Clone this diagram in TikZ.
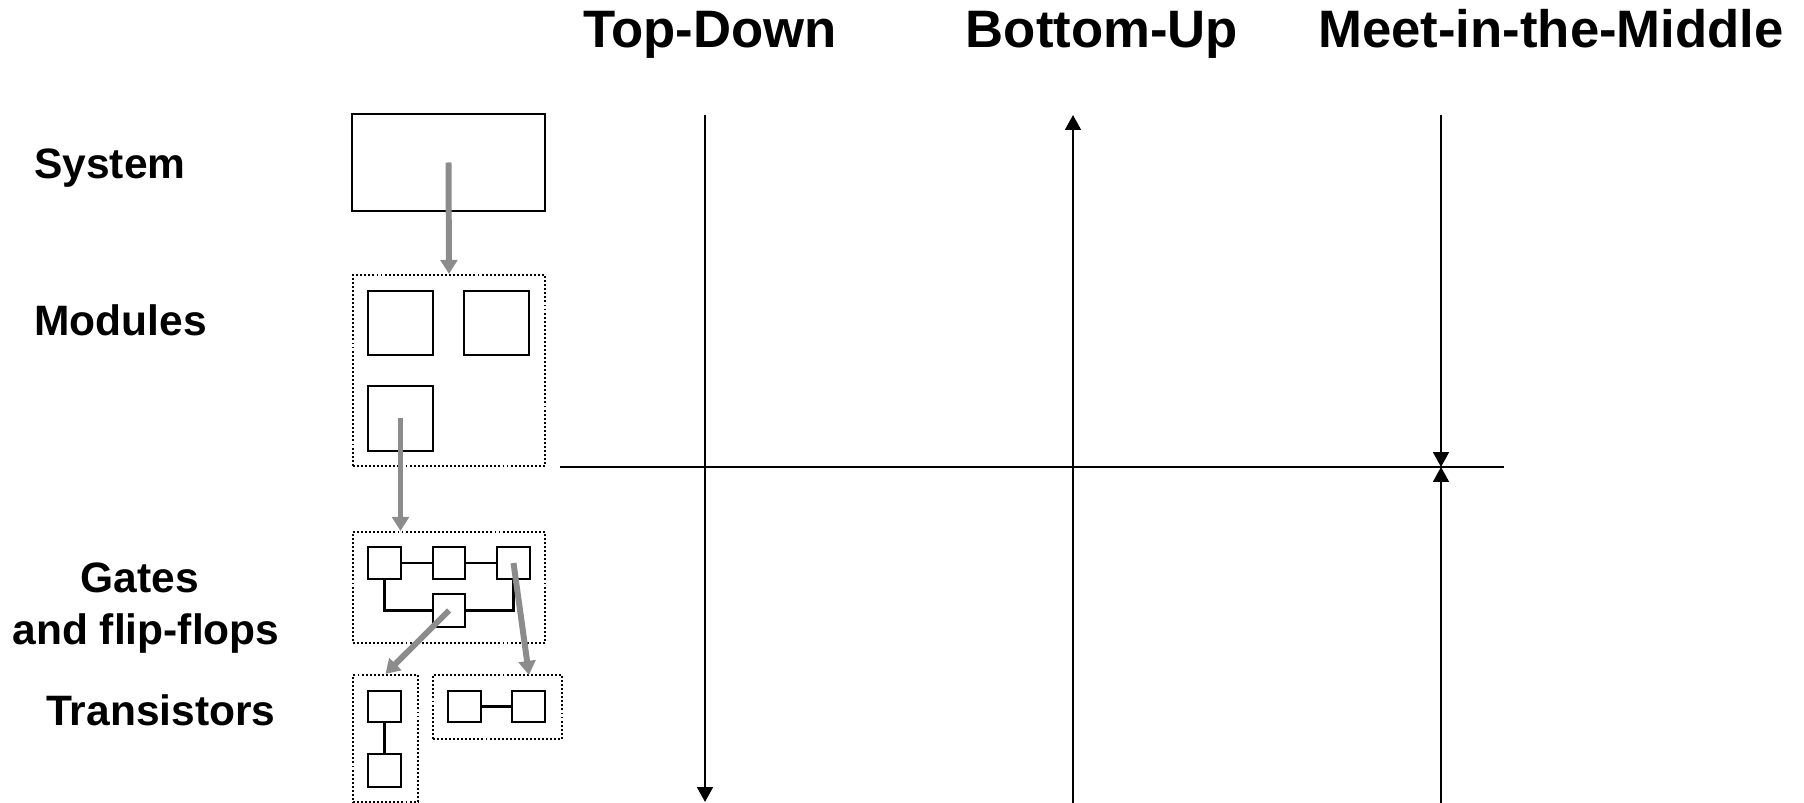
\documentclass[tikz,border=0pt]{standalone}
\usepackage{fontspec}
\setmainfont{Liberation Sans}
\usetikzlibrary{arrows.meta,fit,calc}
\begin{document}
\begin{tikzpicture}[x=0.02cm,y=-0.02cm,
  box/.style={draw,line width=1.3pt,inner sep=0pt},
  group/.style={draw,line width=1.2pt,dash pattern=on 1.1pt off 1.2pt,inner sep=0pt},
  refine/.style={draw={rgb,255:red,140;green,140;blue,140},line width=3.4pt,
    -{Triangle[width=9.5pt,length=8pt]}},
  axis/.style={line width=1.3pt,-{Triangle[width=9pt,length=8.5pt]}},
  plain/.style={line width=1.3pt},
  wire/.style={line width=1.2pt},
  heading/.style={font=\fontsize{30}{36}\selectfont\bfseries,inner sep=0pt,anchor=base},
  level/.style={font=\fontsize{24.2}{29}\selectfont\bfseries,inner sep=0pt,anchor=base west},
  levelc/.style={font=\fontsize{24.2}{29}\selectfont\bfseries,inner sep=0pt,anchor=base}]
\useasboundingbox (0,0) rectangle (1804,803);

% column headings
\node[heading] (hTD) at (710,48) {Top-Down};
\node[heading] (hBU) at (1102,48) {Bottom-Up};
\node[heading] (hMM) at (1551,48) {Meet-in-the-Middle};

% abstraction levels
\node[level] (lSys) at (34,179) {System};
\node[level] (lMod) at (34,336) {Modules};
\node[levelc] (lGat) at (140,592) {Gates};
\node[levelc] (lFF) at (146,644) {and flip-flops};
\node[level] (lTr) at (46,725) {Transistors};

% system
\node[box,fit={(352,114) (545,211)}] (sys) {};

% modules
\node[group,fit={(353,275) (545,466)}] (mods) {};
\node[box,fit={(368,291) (433,355)}] (m1) {};
\node[box,fit={(464,291) (529,355)}] (m2) {};
\node[box,fit={(368,386) (433,451)}] (m3) {};

% gates and flip-flops
\node[group,fit={(353,532) (545,643)}] (gates) {};
\node[box,fit={(368,547) (401,579)}] (g1) {};
\node[box,fit={(433,547) (465,579)}] (g2) {};
\node[box,fit={(497,547) (530,579)}] (g3) {};
\node[box,fit={(433,594) (465,627)}] (g4) {};
\draw[wire] (g1.east) -- (g2.west);
\draw[wire] (g2.east) -- (g3.west);
\draw[wire] (g1.south) |- (g4.west);
\draw[wire] (g4.east) -| (g3.south);

% transistors
\node[group,fit={(353,675) (418,802)}] (tr1) {};
\node[box,fit={(368,691) (401,722)}] (t1a) {};
\node[box,fit={(368,754) (401,787)}] (t1b) {};
\draw[wire] (t1a.south) -- (t1b.north);
\node[group,fit={(433,675) (562,739)}] (tr2) {};
\node[box,fit={(448,691) (481,722)}] (t2a) {};
\node[box,fit={(512,691) (545,722)}] (t2b) {};
\draw[wire] (t2a.east) -- (t2b.west);

% refinement arrows
\draw[refine] (sys.center) -- (mods.north);
\draw[refine] (m3.center) -- (m3.center |- gates.north);
\draw[refine] (g4.center) -- (tr1.north);
\coordinate (tr2in) at (529,675);
\draw[refine] (g3.center) -- (tr2in);

% design-flow axes
\coordinate (tdTop) at (705,115);
\coordinate (tdBot) at (705,802);
\coordinate (buTop) at (1073,115);
\coordinate (buBot) at (1073,803);
\coordinate (mmTop) at (1441,115);
\coordinate (mmBot) at (1441,803);
\coordinate (meet) at (1441,467);
\coordinate (hL) at (560,467);
\coordinate (hR) at (1504,467);
\draw[plain] (hL) -- (hR);
\draw[axis] (tdTop) -- (tdBot);
\draw[axis] (buBot) -- (buTop);
\draw[axis] (mmTop) -- (meet);
\draw[axis] (mmBot) -- (meet);
\end{tikzpicture}
\end{document}
